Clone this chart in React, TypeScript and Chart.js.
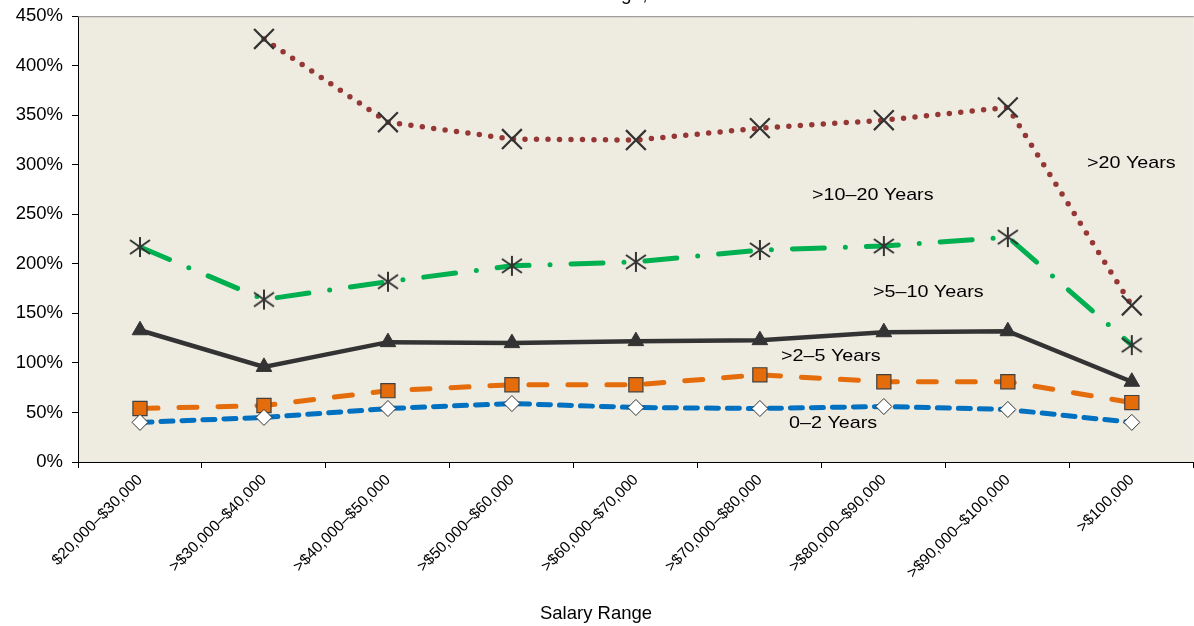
import React, { useEffect, useRef } from "react";
import { Chart, registerables } from "chart.js";

Chart.register(...registerables);

const categories = [
  "$20,000–$30,000",
  ">$30,000–$40,000",
  ">$40,000–$50,000",
  ">$50,000–$60,000",
  ">$60,000–$70,000",
  ">$70,000–$80,000",
  ">$80,000–$90,000",
  ">$90,000–$100,000",
  ">$100,000",
];

const seriesNames = ["0–2 Years", ">2–5 Years", ">5–10 Years", ">10–20 Years", ">20 Years"];

const years0to2 = [40, 45, 54, 59, 55, 54, 56, 53, 40];
const years2to5 = [54, 57, 72, 78, 78, 88, 81, 81, 60];
const years5to10 = [133, 96, 121, 120, 122, 123, 131, 132, 81];
const years10to20 = [217, 164, 182, 198, 202, 214, 218, 227, 118];
const years20plus = [null, 427, 343, 326, 325, 337, 345, 358, 158];

const yTicks = [0, 50, 100, 150, 200, 250, 300, 350, 400, 450];

const titleText = "Percentage, 2010";
const xTitle = "Salary Range";

function makeAsterisk(): HTMLCanvasElement {
  const c = document.createElement("canvas");
  c.width = 24;
  c.height = 24;
  const g = c.getContext("2d")!;
  g.strokeStyle = "#333333";
  g.lineWidth = 2;
  g.beginPath();
  g.moveTo(12, 2);
  g.lineTo(12, 22);
  g.moveTo(2, 5);
  g.lineTo(22, 19);
  g.moveTo(2, 19);
  g.lineTo(22, 5);
  g.stroke();
  return c;
}

const FONT = "'Liberation Sans', Arial, sans-serif";

export default function App() {
  const ref = useRef<HTMLCanvasElement | null>(null);

  useEffect(() => {
    if (!ref.current) return;
    const asterisk = makeAsterisk();

    const decor = {
      id: "decor",
      beforeDraw(chart: any) {
        const { ctx, chartArea } = chart;
        ctx.save();
        ctx.fillStyle = "#EEEBE0";
        ctx.fillRect(chartArea.left, chartArea.top, chartArea.right - chartArea.left, chartArea.bottom - chartArea.top);
        ctx.restore();
      },
      afterDraw(chart: any) {
        const { ctx, chartArea } = chart;
        ctx.save();
        ctx.strokeStyle = "#8a8a8a";
        ctx.lineWidth = 1;
        ctx.beginPath();
        ctx.moveTo(chartArea.left, chartArea.top + 0.5);
        ctx.lineTo(chartArea.right, chartArea.top + 0.5);
        ctx.stroke();

        ctx.fillStyle = "#000";
        ctx.textBaseline = "alphabetic";
        ctx.textAlign = "left";
        ctx.font = `17px ${FONT}`;
        const notes: [string, number, number][] = [
          [seriesNames[4], 1087, 168],
          [seriesNames[3], 812, 200],
          [seriesNames[2], 873, 297],
          [seriesNames[1], 781, 361],
          [seriesNames[0], 789, 428],
        ];
        for (const [t, x, y] of notes) {
          ctx.save();
          ctx.translate(x, y);
          ctx.scale(1.16, 1);
          ctx.fillText(t, 0, 0);
          ctx.restore();
        }

        ctx.textAlign = "center";
        ctx.font = `18.5px ${FONT}`;
        ctx.fillText(xTitle, 596, 619);

        ctx.font = `19px ${FONT}`;
        ctx.fillText(titleText, 620, 0);
        ctx.restore();
      },
    };

    const chart = new Chart(ref.current, {
      type: "line",
      data: {
        labels: categories,
        datasets: [
          {
            label: seriesNames[0],
            data: years0to2,
            borderColor: "#0070C0",
            borderWidth: 5,
            borderDash: [12, 9],
            borderCapStyle: "round",
            pointStyle: "rectRot",
            pointRadius: 8,
            pointBackgroundColor: "#ffffff",
            pointBorderColor: "#333333",
            pointBorderWidth: 1,
            tension: 0,
          },
          {
            label: seriesNames[1],
            data: years2to5,
            borderColor: "#E46C0A",
            borderWidth: 5,
            borderDash: [18, 21],
            borderCapStyle: "round",
            pointStyle: "rect",
            pointRadius: 10,
            pointBackgroundColor: "#E46C0A",
            pointBorderColor: "#404040",
            pointBorderWidth: 1.2,
            tension: 0,
          },
          {
            label: seriesNames[2],
            data: years5to10,
            borderColor: "#333333",
            borderWidth: 4.5,
            pointStyle: "triangle",
            pointRadius: 9,
            pointBackgroundColor: "#333333",
            pointBorderColor: "#333333",
            pointBorderWidth: 1,
            tension: 0,
          },
          {
            label: seriesNames[3],
            data: years10to20,
            borderColor: "#00B050",
            borderWidth: 5,
            borderDash: [32, 21, 0, 21],
            borderCapStyle: "round",
            pointStyle: asterisk as any,
            pointRadius: 10,
            tension: 0,
          },
          {
            label: seriesNames[4],
            data: years20plus,
            borderColor: "#953735",
            borderWidth: 5.5,
            borderDash: [0, 11.5],
            borderCapStyle: "round",
            pointStyle: "crossRot",
            pointRadius: 14,
            pointBorderColor: "#333333",
            pointBackgroundColor: "#333333",
            pointBorderWidth: 2.2,
            spanGaps: false,
            tension: 0,
          },
        ],
      },
      options: {
        animation: false,
        responsive: true,
        maintainAspectRatio: false,
        layout: { padding: { top: 16, right: 0, left: 0, bottom: 0 } },
        plugins: {
          legend: { display: false },
          tooltip: { enabled: false },
          title: { display: false },
        },
        scales: {
          x: {
            type: "category",
            offset: true,
            grid: {
              display: true,
              drawOnChartArea: false,
              drawTicks: true,
              tickLength: 6,
              color: "#000",
              offset: true,
            },
            border: { display: true, color: "#000", width: 1 },
            ticks: {
              color: "#000",
              font: { family: FONT, size: 15.5 },
              maxRotation: 45,
              minRotation: 45,
              autoSkip: false,
              padding: 3,
            },
            afterFit(scale: any) {
              scale.height = 164;
              scale.paddingLeft = 0;
              scale.paddingRight = 0;
            },
          },
          y: {
            min: 0,
            max: 450,
            afterBuildTicks(scale: any) {
              scale.ticks = yTicks.map((v) => ({ value: v }));
            },
            grid: {
              display: true,
              drawOnChartArea: false,
              drawTicks: true,
              tickLength: 6,
              color: "#000",
            },
            border: { display: true, color: "#000", width: 1 },
            ticks: {
              color: "#000",
              font: { family: FONT, size: 18.5 },
              padding: 9,
              callback: (v: any) => `${v}%`,
            },
            afterFit(scale: any) {
              scale.width = 78;
              scale.paddingTop = 0;
              scale.paddingBottom = 0;
            },
          },
        },
      },
      plugins: [decor],
    } as any);

    return () => chart.destroy();
  }, []);

  return (
    <div style={{ position: "fixed", left: 0, top: 0, width: 1194, height: 626, overflow: "hidden", background: "#fff" }}>
      <div style={{ position: "absolute", left: 0, top: 0, width: 1210, height: 626 }}>
        <canvas ref={ref} />
      </div>
    </div>
  );
}
